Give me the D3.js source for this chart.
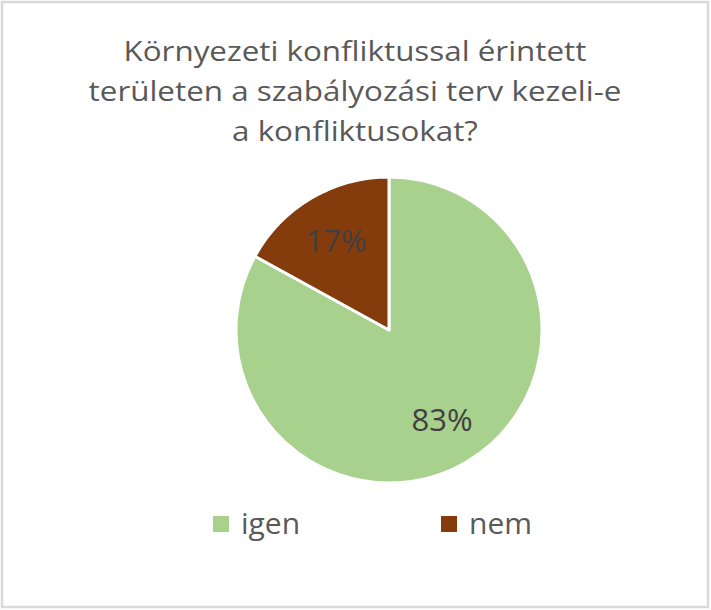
<!DOCTYPE html>
<html>
<head>
<meta charset="utf-8">
<script src="https://cdn.jsdelivr.net/npm/d3@7"></script>
<style>
	html, body { margin: 0; padding: 0; background: #fff; }
	svg { display: block; }
	text { font-family: 'Open Sans', sans-serif; fill: #595959; }
</style>
</head>
<body>
<div id="chart"></div>
<script>

const titleLines = ['Környezeti konfliktussal érintett', 'területen a szabályozási terv kezeli-e', 'a konfliktusokat?'];
const categories = ['igen', 'nem'];
const values = [83, 17];
const colors = ['#a9d18e', '#843c0c'];

const width = 711;
const height = 610;

const svg = d3.select('#chart')
	.append('svg')
	.attr('width', width)
	.attr('height', height);

svg.append('rect')
	.attr('x', 2)
	.attr('y', 2)
	.attr('width', width - 5)
	.attr('height', height - 5)
	.attr('fill', '#fff')
	.attr('stroke', '#d9d9d9')
	.attr('stroke-width', 2.5);

// stretch text horizontally by a factor
const stretch = function (sel, k) {
	sel.each(function () {
		const w = this.getComputedTextLength();
		d3.select(this)
			.attr('textLength', w * k)
			.attr('lengthAdjust', 'spacingAndGlyphs');
	});
};

// title
svg.append('g')
	.selectAll('text')
	.data(titleLines)
	.join('text')
	.attr('x', 355)
	.attr('y', (d, i) => 61 + i * 40)
	.attr('text-anchor', 'middle')
	.attr('font-size', 28)
	.text(d => d)
	.call(stretch, 1.12);

// pie
const cx = 389;
const cy = 330;
const radius = 153;

const pie = d3.pie().sort(null).value(d => d.value);
const arc = d3.arc().innerRadius(0).outerRadius(radius);
const labelArc = d3.arc().innerRadius(radius * 0.68).outerRadius(radius * 0.68);

const data = categories.map((c, i) => ({name: c, value: values[i], color: colors[i]}));
const total = d3.sum(values);

const g = svg.append('g')
	.attr('transform', `translate(${cx},${cy})`);

const slices = g.selectAll('g.slice')
	.data(pie(data))
	.join('g')
	.attr('class', 'slice');

slices.append('path')
	.attr('d', arc)
	.attr('fill', d => d.data.color)
	.attr('stroke', '#fff')
	.attr('stroke-width', 3)
	.attr('stroke-linejoin', 'round');

slices.append('text')
	.attr('transform', d => `translate(${labelArc.centroid(d)})`)
	.attr('text-anchor', 'middle')
	.attr('dy', '0.36em')
	.attr('font-size', 31)
	.style('fill', '#404040')
	.text(d => Math.round(d.data.value / total * 100) + '%');

// legend
const legendX = [213, 441];

const legend = svg.append('g')
	.selectAll('g')
	.data(data)
	.join('g')
	.attr('transform', (d, i) => `translate(${legendX[i]},516)`);

legend.append('rect')
	.attr('width', 16)
	.attr('height', 16)
	.attr('fill', d => d.color);

legend.append('text')
	.attr('x', 28)
	.attr('y', 18)
	.attr('font-size', 30)
	.text(d => d.name);

</script>
</body>
</html>
